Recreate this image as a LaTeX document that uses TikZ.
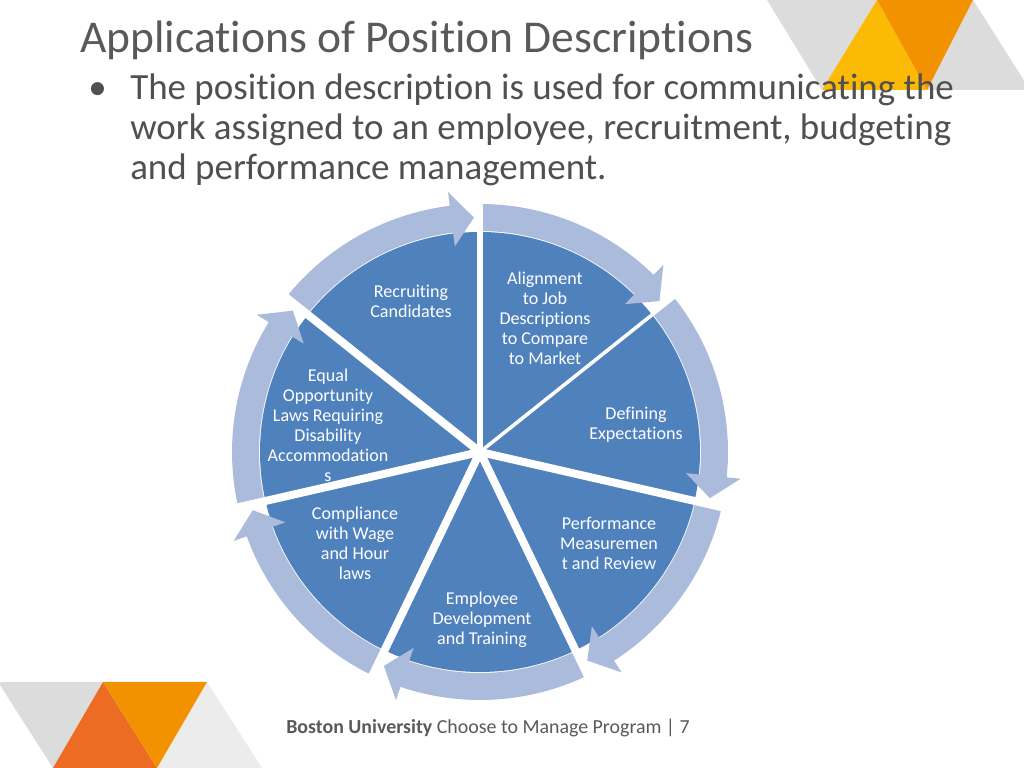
\documentclass[tikz,border=0pt]{standalone}
\usepackage{fontspec}
\setmainfont{Carlito}[Ligatures={NoCommon}]
\usetikzlibrary{positioning,calc}
\definecolor{pieblue}{RGB}{79,129,189}
\definecolor{ringblue}{RGB}{170,187,219}
\definecolor{titlegray}{RGB}{89,89,89}
\definecolor{textgray}{RGB}{80,80,80}
\definecolor{decogray}{RGB}{220,220,220}
\definecolor{decolight}{RGB}{236,236,236}
\definecolor{decoyellow}{RGB}{251,187,5}
\definecolor{decoorange}{RGB}{242,146,0}
\definecolor{decored}{RGB}{237,108,36}
\tikzset{
  % slide title
  slidetitle/.style={inner sep=0pt, anchor=base west, text=titlegray,
    font=\fontsize{32}{38}\selectfont},
  % bullet lines
  bodyline/.style={inner sep=0pt, anchor=base west, text=textgray,
    font=\fontsize{26}{28}\selectfont},
  % text inside the pie
  seglabel/.style={inner sep=0pt, align=center, text=white,
    font=\fontsize{12.7}{14.1}\selectfont},
  % footer
  footline/.style={inner sep=0pt, anchor=base, text=titlegray,
    font=\fontsize{14}{16}\selectfont},
  % white cut between two segments
  gapline/.style={white, line width=#1},
}

\begin{document}
\begin{tikzpicture}[x=0.703125pt, y=0.703125pt]
    \useasboundingbox (0,0) rectangle (1024,768);

    % Corner triangles
    \begin{scope}
        \clip (0,0) rectangle (1024,768);
        \fill[decogray] (767,768) -- (877,768) -- (822,678) -- cycle;
        \fill[decogray] (973,768) -- (927,678) -- (1030,678) -- cycle;
        \fill[decoyellow] (877,768) -- (822,678) -- (927,678) -- cycle;
        \fill[decoorange] (877,768) -- (973,768) -- (927,678) -- cycle;
        \fill[decogray] (-2,86) -- (103,86) -- (53,0) -- cycle;
        \fill[decolight] (207,86) -- (157,0) -- (262,0) -- cycle;
        \fill[decored] (103,86) -- (53,0) -- (157,0) -- cycle;
        \fill[decoorange] (103,86) -- (207,86) -- (157,0) -- cycle;
    \end{scope}

    % Title and bullet
    \node[slidetitle] (title) at (80,715) {Applications of Position Descriptions};
    \node[bodyline] (dot) at (88,668) {•};
    \node[bodyline] (line1) at (130,668) {The position description is used for communicating the};
    \node[bodyline] (line2) at (130,628) {work assigned to an employee, recruitment, budgeting};
    \node[bodyline] (line3) at (130,588) {and performance management.};

    % Pie with the ring of arrows
    \begin{scope}[shift={(480,316)}]
        \coordinate (hub) at (0,0);
        \fill[pieblue] (hub) circle[radius=220];
        \foreach \k in {0,...,6}{
            \pgfmathsetmacro\angS{90-51.4286*\k}
            \pgfmathsetmacro\angE{90-51.4286*(\k+1)+1.5}
            \pgfmathsetmacro\angB{\angE+5.5}
            \fill[ringblue] (\angS:221) arc[start angle=\angS, end angle=\angB, radius=221]
                -- (\angB:207) -- (\angE:234.5) -- (\angB:262) -- (\angB:248)
                arc[start angle=\angB, end angle=\angS, radius=248] -- cycle;
        }
        \foreach \a/\w in {90/4.7pt, 38.57/2.5pt, -12.86/5.6pt, -64.29/5.6pt,
                           -115.71/5.6pt, -167.14/5.6pt, 141.43/5.6pt}
            \draw[gapline=\w] (hub) -- (\a:252);
    \end{scope}

    % Segment labels
    \node[seglabel] (recruit) at (411,467) {Recruiting\\Candidates};
    \node[seglabel] (align) at (545,450) {Alignment\\to Job\\Descriptions\\to Compare\\to Market};
    \node[seglabel] (define) at (636,343) {Defining\\Expectations};
    \node[seglabel] (perform) at (609,225) {Performance\\Measuremen\\t and Review};
    \node[seglabel] (develop) at (482,148) {Employee\\Development\\and Training};
    \node[seglabel] (comply) at (355,225) {Compliance\\with Wage\\and Hour\\laws};
    \node[seglabel] (equal) at (328,343) {Equal\\Opportunity\\Laws Requiring\\Disability\\Accommodation\\s};

    % Footer
    \node[footline] (footer) at (488,34) {\textbf{Boston University} Choose to Manage Program | 7};
\end{tikzpicture}
\end{document}
